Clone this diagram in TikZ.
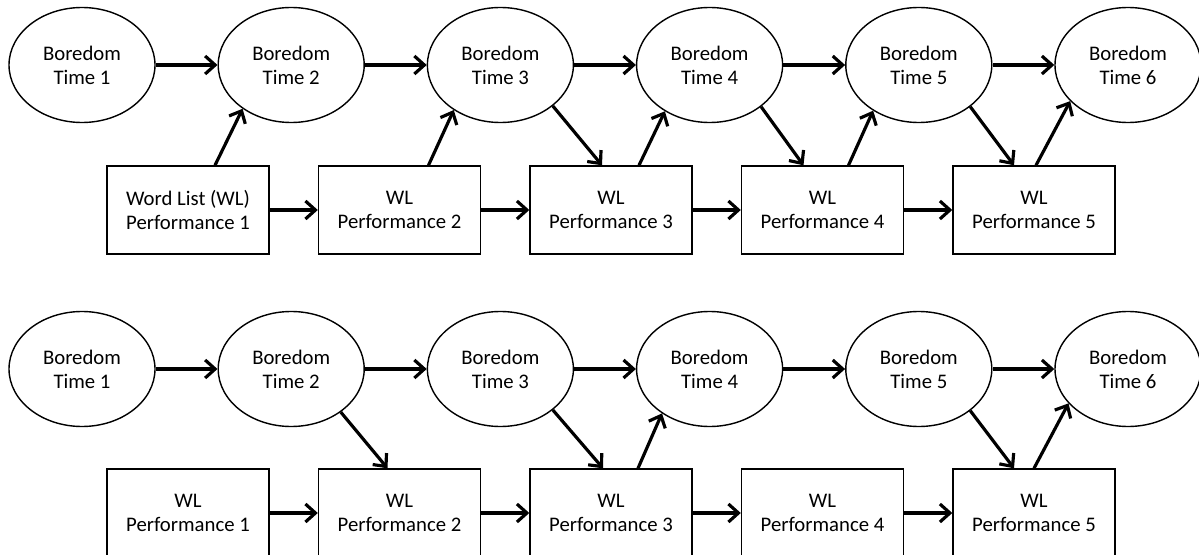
\documentclass[tikz,border=0pt]{standalone}
\usepackage{fontspec}
\setmainfont{Carlito}
\usetikzlibrary{arrows.meta, shapes.geometric}
\tikzset{
  every picture/.style={line width=0.8pt},
  state/.style={draw, ellipse, minimum width=29.2mm, minimum height=23mm, inner sep=0pt, align=center, font=\fontsize{11.8}{13.7}\selectfont},
  task/.style={draw, rectangle, minimum width=32.4mm, minimum height=17.6mm, inner sep=0pt, align=center, font=\fontsize{11.8}{13.7}\selectfont},
  link/.style={-{Straight Barb[length=2mm, width=3.6mm]}, line width=1.8pt},
}
\begin{document}
\begin{tikzpicture}[x=0.2mm, y=-0.2mm]
  \useasboundingbox (0,0) rectangle (1199,555);
  % panel 1: top model
  \foreach \i in {1,...,6}
    \node[state] (tb\i) at ({82+209.2*(\i-1)},65) {Boredom\\ Time \i};
  \node[task] (tw1) at (188,210) {Word List (WL)\\ Performance 1};
  \foreach \i in {2,...,5}
    \node[task] (tw\i) at ({188+211.5*(\i-1)},210) {WL\\ Performance \i};
  \foreach \i [count=\j from 2] in {1,...,5}
    \draw[link] (tb\i) -- (tb\j);
  \foreach \i [count=\j from 2] in {1,...,4}
    \draw[link] (tw\i) -- (tw\j);
  \draw[link] ([xshift=5.4mm]tw1.north) -- (tb2.222);
  \draw[link] ([xshift=5.8mm]tw2.north) -- (tb3.224);
  \draw[link] (tb3.322) -- ([xshift=-1.8mm]tw3.north);
  \draw[link] ([xshift=5.6mm]tw3.north) -- (tb4.226);
  \draw[link] (tb4.321) -- ([xshift=-3.8mm]tw4.north);
  \draw[link] ([xshift=5.2mm]tw4.north) -- (tb5.225);
  \draw[link] (tb5.321) -- ([xshift=-4mm]tw5.north);
  \draw[link] ([xshift=0.4mm]tw5.north) -- (tb6.212);
  % panel 2: bottom model
  \foreach \i in {1,...,6}
    \node[state] (bb\i) at ({82+209.2*(\i-1)},369) {Boredom\\ Time \i};
  \foreach \i in {1,...,5}
    \node[task] (bw\i) at ({188+211.5*(\i-1)},513) {WL\\ Performance \i};
  \foreach \i [count=\j from 2] in {1,...,5}
    \draw[link] (bb\i) -- (bb\j);
  \foreach \i [count=\j from 2] in {1,...,4}
    \draw[link] (bw\i) -- (bw\j);
  \draw[link] (bb2.319) -- ([xshift=-2.4mm]bw2.north);
  \draw[link] (bb3.322) -- ([xshift=-1.6mm]bw3.north);
  \draw[link] ([xshift=5.4mm]bw3.north) -- (bb4.223);
  \draw[link] (bb5.321) -- ([xshift=-4mm]bw5.north);
  \draw[link] (bw5.north) -- (bb6.210);
\end{tikzpicture}
\end{document}
